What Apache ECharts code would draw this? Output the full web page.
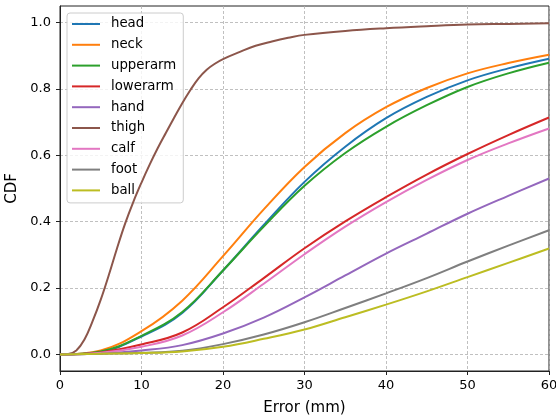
<!DOCTYPE html>
<html><head><meta charset="utf-8">
<script src="https://cdn.jsdelivr.net/npm/echarts@6/dist/echarts.min.js"></script>
<style>html,body{margin:0;padding:0;background:#fff}#c{width:556px;height:417px}</style>
</head><body><div id="c"></div>
<script>
const seriesNames = ['head','neck','upperarm','lowerarm','hand','thigh','calf','foot','ball'];
const colors = ['#1f77b4','#ff7f0e','#2ca02c','#d62728','#9467bd','#8c564b','#e377c2','#7f7f7f','#bcbd22'];
const xs = [0,5,10,15,20,25,30,35,40,45,50,55,60];
const head     = [0,0.008,0.054,0.125,0.253,0.390,0.520,0.626,0.712,0.776,0.826,0.862,0.891];
const neck     = [0,0.012,0.070,0.162,0.296,0.437,0.565,0.667,0.745,0.803,0.847,0.878,0.903];
const upperarm = [0,0.009,0.056,0.128,0.253,0.385,0.508,0.607,0.686,0.751,0.806,0.847,0.879];
const lowerarm = [0,0.006,0.030,0.066,0.142,0.230,0.320,0.401,0.474,0.542,0.604,0.661,0.714];
const hand     = [0,0.003,0.012,0.028,0.063,0.111,0.172,0.238,0.304,0.364,0.424,0.478,0.530];
const calf     = [0,0.005,0.023,0.057,0.127,0.213,0.302,0.385,0.459,0.526,0.586,0.636,0.681];
const foot     = [0,0.002,0.005,0.011,0.031,0.060,0.097,0.140,0.184,0.230,0.280,0.328,0.374];
const ball     = [0,0.002,0.004,0.009,0.023,0.047,0.075,0.112,0.150,0.190,0.233,0.276,0.319];
const thighX = [0,1,2,3,4,5,6,7,8,9,10,11,12,13,14,15,16,17,18,19,20,22,24,26,28,30,35,40,45,50,55,60];
const thighY = [0,0.001,0.012,0.045,0.1,0.165,0.24,0.32,0.395,0.46,0.518,0.572,0.622,0.668,0.713,0.757,0.797,0.832,0.858,0.876,0.89,0.911,0.93,0.943,0.954,0.963,0.975,0.983,0.989,0.994,0.996,0.998];
const xTicks = [0,10,20,30,40,50,60];
const yTicks = [0,0.2,0.4,0.6,0.8,1.0];

const valuesByName = {head, neck, upperarm, lowerarm, hand, calf, foot, ball};
const FONT = 'DejaVu Sans';
const series = seriesNames.map((n, i) => {
  const data = n === 'thigh' ? thighX.map((x, j) => [x, thighY[j]]) : xs.map((x, j) => [x, valuesByName[n][j]]);
  return {name: n, type: 'line', data, showSymbol: false, symbol: 'none', smooth: 0.4,
    lineStyle: {width: 2, color: colors[i]}, itemStyle: {color: colors[i]}, z: 2 + i};
});

const chart = echarts.init(document.getElementById('c'), null, {renderer: 'canvas'});
chart.setOption({
  animation: false,
  backgroundColor: '#fff',
  grid: {left: 60, right: 7, top: 6, bottom: 46, show: true, borderColor: '#222', borderWidth: 1,
    backgroundColor: 'transparent', containLabel: false, outerBoundsMode: 'none'},
  legend: {
    orient: 'vertical', left: 67, top: 13, padding: [3.5, 7, 5, 5],
    icon: 'rect', itemWidth: 28, itemHeight: 2, itemGap: 5.8,
    borderColor: '#cccccc', borderWidth: 1, borderRadius: 3, backgroundColor: 'rgba(255,255,255,0.8)',
    textStyle: {fontFamily: FONT, fontSize: 13.3, color: '#000', lineHeight: 15, padding: [0, 0, 0, 6]},
    data: seriesNames
  },
  xAxis: {
    type: 'value', min: 0, max: 60, interval: 10,
    name: 'Error (mm)', nameLocation: 'middle', nameGap: 30,
    nameTextStyle: {fontFamily: FONT, fontSize: 15, color: '#000'},
    axisLine: {show: true, onZero: false, lineStyle: {color: '#222', width: 1}},
    axisTick: {show: true, length: 4, lineStyle: {color: '#222'}},
    axisLabel: {fontFamily: FONT, fontSize: 13, color: '#000', margin: 8, customValues: xTicks},
    splitLine: {show: true, lineStyle: {color: '#b0b0b0', width: 0.8, type: [3, 2]}}
  },
  yAxis: {
    type: 'value', min: -0.05, max: 1.05, splitNumber: 5,
    name: 'CDF', nameLocation: 'middle', nameGap: 39,
    nameTextStyle: {fontFamily: FONT, fontSize: 15, color: '#000'},
    axisLine: {show: true, onZero: false, lineStyle: {color: '#222', width: 1}},
    axisTick: {show: true, length: 4, lineStyle: {color: '#222'}, customValues: yTicks},
    axisLabel: {fontFamily: FONT, fontSize: 13, color: '#000', margin: 9, customValues: yTicks,
      formatter: v => v.toFixed(1)},
    splitLine: {show: true, lineStyle: {color: '#b0b0b0', width: 0.8, type: [3, 2]}}
  },
  series
});
</script></body></html>
